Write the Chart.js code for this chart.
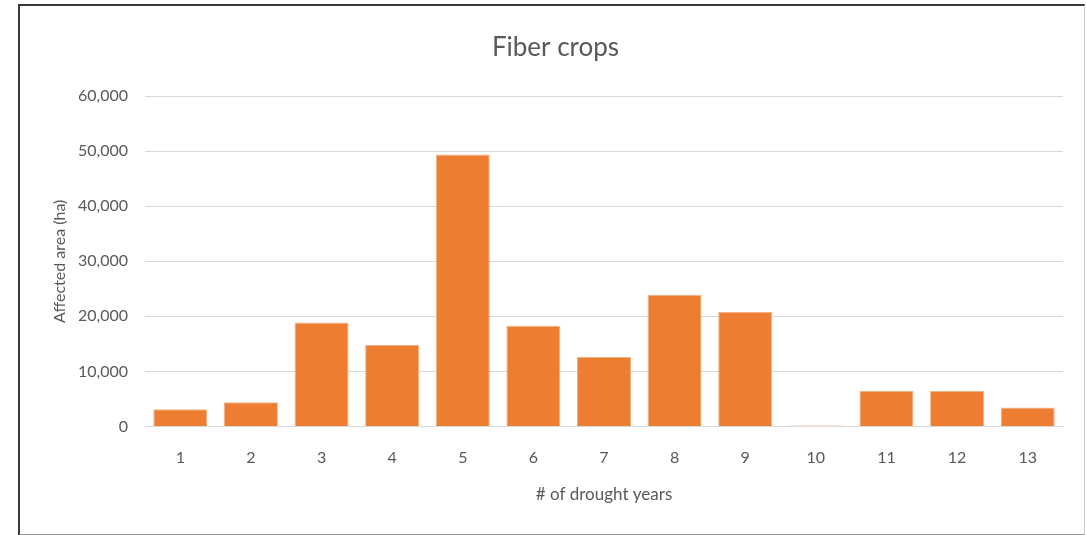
<!DOCTYPE html>
<html>
<head>
<meta charset="utf-8">
<script src="https://cdn.jsdelivr.net/npm/chart.js@4.4.1/dist/chart.umd.min.js"></script>
<style>
  html, body { margin: 0; padding: 0; background: #fff; }
  body { width: 1086px; height: 535px; position: relative; overflow: hidden; }
  #frame {
    position: absolute; left: 18px; top: 4px; width: 1064px; height: 528px;
    border-left: 2px solid #3a3a3a; border-top: 2px solid #3a3a3a;
    border-right: 1px solid #c8c8c8; border-bottom: 2px solid #9a9a9a;
  }
  #frame canvas { display: block; }
</style>
</head>
<body>
<div id="frame"><canvas id="fiberChart" width="1064" height="528"></canvas></div>
<script>
// drought years on the x axis
const droughtYears = ['1', '2', '3', '4', '5', '6', '7', '8', '9', '10', '11', '12', '13'];
// affected area in hectares
const affectedArea = [3100, 4400, 18900, 14800, 49400, 18300, 12600, 23900, 20800, 150, 6450, 6450, 3450];
const yTicks = [0, 10000, 20000, 30000, 40000, 50000, 60000];

const textColor = '#595959';
const fontFamily = 'Lato, "Open Sans", sans-serif';

let ctx = document.getElementById('fiberChart').getContext('2d');
let fiberChart = new Chart(ctx, {
    type: 'bar',
    data: {
        labels: droughtYears,
        datasets: [{
            data: affectedArea,
            backgroundColor: '#ED7D31',
            borderColor: '#F4B183',
            borderWidth: 1,
            barPercentage: 0.765,
            categoryPercentage: 1.0
        }]
    },
    options: {
        responsive: false,
        animation: false,
        layout: { padding: { left: 28, right: 21, top: 18, bottom: 29 } },
        plugins: {
            legend: { display: false },
            tooltip: { enabled: false },
            title: {
                display: true,
                text: 'Fiber crops',
                color: textColor,
                font: { family: fontFamily, size: 26, weight: 'normal' },
                padding: { top: 8, bottom: 33 }
            }
        },
        scales: {
            x: {
                grid: { display: false, drawTicks: false },
                border: { display: true, color: '#d9d9d9', width: 1 },
                ticks: { color: textColor, font: { family: fontFamily, size: 16 }, padding: 22 },
                title: {
                    display: true,
                    text: '# of drought years',
                    color: textColor,
                    font: { family: fontFamily, size: 17 },
                    padding: { top: -5, bottom: 0 }
                }
            },
            y: {
                min: 0,
                max: 60000,
                afterBuildTicks: function(axis) {
                    axis.ticks = yTicks.map(v => ({ value: v }));
                },
                afterFit: function(axis) {
                    axis.width = 97;
                },
                grid: { color: '#d9d9d9', drawTicks: false },
                border: { display: false },
                ticks: {
                    color: textColor,
                    font: { family: fontFamily, size: 16 },
                    padding: 17,
                    callback: function(value) { return value.toLocaleString('en-US'); }
                },
                title: {
                    display: true,
                    text: 'Affected area (ha)',
                    color: textColor,
                    font: { family: fontFamily, size: 16 },
                    padding: { top: 2, bottom: 0 }
                }
            }
        }
    }
});
</script>
</body>
</html>
